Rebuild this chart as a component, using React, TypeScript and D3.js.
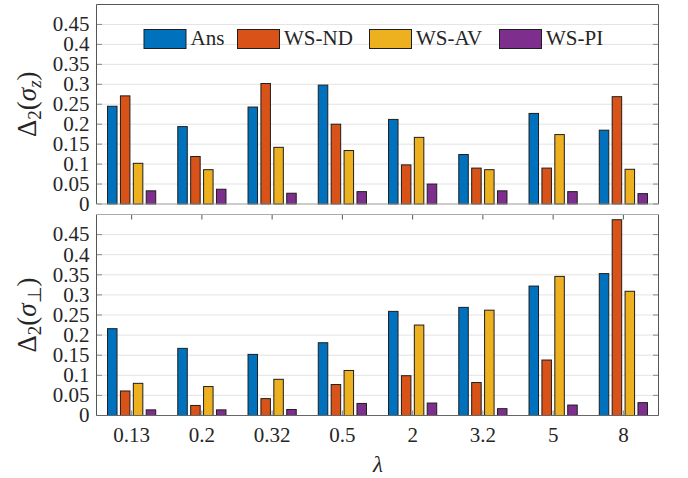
import React from "react";
import * as d3 from "d3";

// λ values along the x axis
const lambdas = ["0.13", "0.2", "0.32", "0.5", "2", "3.2", "5", "8"];
const seriesNames = ["Ans", "WS-ND", "WS-AV", "WS-PI"];
const seriesColors = ["#0072BD", "#D95319", "#EDB120", "#7E2F8E"];

// Δ2(σz) per series
const sigZAns = [0.245, 0.194, 0.243, 0.298, 0.212, 0.124, 0.227, 0.185];
const sigZND = [0.271, 0.119, 0.302, 0.2, 0.098, 0.09, 0.09, 0.269];
const sigZAV = [0.102, 0.086, 0.142, 0.134, 0.167, 0.086, 0.174, 0.087];
const sigZPI = [0.033, 0.037, 0.027, 0.031, 0.05, 0.033, 0.031, 0.026];

// Δ2(σ⊥) per series
const sigPAns = [0.216, 0.167, 0.152, 0.181, 0.259, 0.269, 0.322, 0.353];
const sigPND = [0.061, 0.025, 0.042, 0.077, 0.099, 0.082, 0.138, 0.487];
const sigPAV = [0.08, 0.072, 0.09, 0.112, 0.225, 0.262, 0.346, 0.309];
const sigPPI = [0.014, 0.014, 0.015, 0.03, 0.031, 0.017, 0.026, 0.032];

const yTickValues = [0, 0.05, 0.1, 0.15, 0.2, 0.25, 0.3, 0.35, 0.4, 0.45];
const yTickLabels = ["0", "0.05", "0.1", "0.15", "0.2", "0.25", "0.3", "0.35", "0.4", "0.45"];

const W = 688;
const H = 478;
const FONT = "Liberation Serif";
const TEXT = "#262626";

const plotLeft = 96.5;
const plotRight = 658.5;

const x0 = d3.scaleBand<string>().domain(lambdas).range([plotLeft, plotRight]);

function Panel({
  top,
  bottom,
  data,
  showXLabels,
  topTicks,
  label,
}: {
  top: number;
  bottom: number;
  data: number[][];
  showXLabels: boolean;
  topTicks: boolean;
  label: React.ReactNode;
}) {
  const y = d3.scaleLinear().domain([0, 0.5]).range([bottom, top]);
  return (
    <g>
      {/* grid */}
      {yTickValues
        .filter((v) => v > 0)
        .map((v) => (
          <line
            key={"g" + v}
            x1={plotLeft}
            x2={plotRight}
            y1={y(v)}
            y2={y(v)}
            stroke="#e3e3e3"
            strokeWidth={1}
          />
        ))}
      {/* y ticks, inward on both sides */}
      {yTickValues.map((v) => (
        <g key={"t" + v}>
          <line x1={plotLeft} x2={plotLeft + 5.5} y1={y(v)} y2={y(v)} stroke="#8a8a8a" />
          <line x1={plotRight - 5.5} x2={plotRight} y1={y(v)} y2={y(v)} stroke="#8a8a8a" />
        </g>
      ))}
      {/* x ticks */}
      {lambdas.map((l) => {
        const cx = (x0(l) as number) + x0.bandwidth() / 2;
        return (
          <g key={"xt" + l}>
            {showXLabels && (
              <line x1={cx} x2={cx} y1={bottom} y2={bottom - 5} stroke="#8a8a8a" />
            )}
            {topTicks && <line x1={cx} x2={cx} y1={top} y2={top + 5} stroke="#555" />}
          </g>
        );
      })}
      {/* bars */}
      {lambdas.map((l, i) => {
        const cx = (x0(l) as number) + x0.bandwidth() / 2;
        const x1 = d3
          .scaleBand<string>()
          .domain(seriesNames)
          .range([cx - 24.6, cx + 24.6])
          .paddingInner(0.186)
          .paddingOuter(0);
        return (
          <g key={"grp" + l}>
            {seriesNames.map((s, k) => {
              const v = data[k][i];
              return (
                <rect
                  key={s}
                  x={(x1(s) as number) + 0.5}
                  y={y(v)}
                  width={x1.bandwidth() - 1}
                  height={y(0) - y(v)}
                  fill={seriesColors[k]}
                  stroke="#1e1e1e"
                  strokeWidth={1}
                />
              );
            })}
          </g>
        );
      })}
      {/* frame */}
      <line x1={plotLeft} x2={plotLeft} y1={top} y2={bottom} stroke="#555" />
      <line x1={plotRight} x2={plotRight} y1={top} y2={bottom} stroke="#555" />
      <line x1={plotLeft} x2={plotRight} y1={top} y2={top} stroke={topTicks ? "#aaa" : "#555"} />
      <line x1={plotLeft} x2={plotRight} y1={bottom} y2={bottom} stroke={showXLabels ? "#666" : "#999"} />
      {/* y tick labels */}
      {yTickValues.map((v, i) => (
        <text
          key={"yl" + v}
          x={89.5}
          y={y(v) + 6.8}
          textAnchor="end"
          fontSize={21}
          style={{ fontFamily: FONT }}
          fill={TEXT}
        >
          {yTickLabels[i]}
        </text>
      ))}
      {/* x tick labels */}
      {showXLabels &&
        lambdas.map((l) => (
          <text
            key={"xl" + l}
            x={(x0(l) as number) + x0.bandwidth() / 2}
            y={bottom + 26.5}
            textAnchor="middle"
            fontSize={21}
            style={{ fontFamily: FONT }}
            fill={TEXT}
          >
            {l}
          </text>
        ))}
      {/* y axis label */}
      <text
        transform={`translate(36,${(top + bottom) / 2}) rotate(-90)`}
        textAnchor="middle"
        fontSize={27}
        style={{ fontFamily: FONT }}
        fill={TEXT}
      >
        {label}
      </text>
    </g>
  );
}

export default function App() {
  const legendPatchX = [144, 237.5, 369.5, 499.5];
  return (
    <svg
      width={W}
      height={H}
      style={{ position: "absolute", left: 0, top: 0, background: "#fff" }}
    >
      <rect x={0} y={0} width={W} height={H} fill="#fff" />
      <Panel
        top={4.5}
        bottom={204}
        data={[sigZAns, sigZND, sigZAV, sigZPI]}
        showXLabels={false}
        topTicks={false}
        label={
          <>
            <tspan>Δ</tspan>
            <tspan fontSize={19} dy={5}>2</tspan>
            <tspan dy={-5}>(</tspan>
            <tspan fontStyle="italic">σ</tspan>
            <tspan fontSize={19} fontStyle="italic" dy={5}>z</tspan>
            <tspan dy={-5}>)</tspan>
          </>
        }
      />
      <Panel
        top={214.5}
        bottom={415.5}
        data={[sigPAns, sigPND, sigPAV, sigPPI]}
        showXLabels={true}
        topTicks={true}
        label={
          <>
            <tspan>Δ</tspan>
            <tspan fontSize={19} dy={5}>2</tspan>
            <tspan dy={-5}>(</tspan>
            <tspan fontStyle="italic">σ</tspan>
            <tspan fontSize={19} dy={5}>⊥</tspan>
            <tspan dy={-5}>)</tspan>
          </>
        }
      />
      {/* legend */}
      {seriesNames.map((s, k) => (
        <g key={"lg" + s}>
          <rect
            x={legendPatchX[k]}
            y={29.5}
            width={42}
            height={19}
            fill={seriesColors[k]}
            stroke="#1e1e1e"
            strokeWidth={1}
          />
          <text
            x={legendPatchX[k] + 46.5}
            y={44.8}
            fontSize={21}
            style={{ fontFamily: FONT }}
            fill={TEXT}
          >
            {s}
          </text>
        </g>
      ))}
      {/* x axis label */}
      <text
        x={378}
        y={472}
        textAnchor="middle"
        fontSize={23}
        fontStyle="italic"
        style={{ fontFamily: FONT }}
        fill={TEXT}
      >
        λ
      </text>
    </svg>
  );
}
